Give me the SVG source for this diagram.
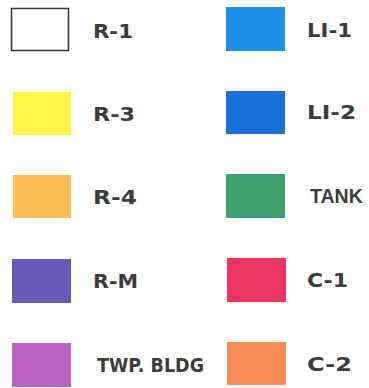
<svg xmlns="http://www.w3.org/2000/svg" width="369" height="388" viewBox="0 0 369 388">
<style>
  .sw { stroke: none; }
  .lbl { font-family: "DejaVu Sans", "Liberation Sans", sans-serif; font-weight: bold; font-size: 20px; fill: #3c3c3c; }
  .nar { font-family: "Liberation Sans", Arial, sans-serif; font-size: 19.5px; }
</style>
<rect width="369" height="388" fill="#ffffff"/>
<g id="r1"><rect x="11.5" y="8.5" width="57" height="42" fill="#ffffff" stroke="#333333" stroke-width="1.5"/><text class="lbl" x="93" y="38" textLength="40" lengthAdjust="spacingAndGlyphs">R-1</text></g>
<g id="r3"><rect class="sw" x="13" y="92" width="58" height="43" fill="#fff447"/><text class="lbl" x="93" y="121" textLength="42" lengthAdjust="spacingAndGlyphs">R-3</text></g>
<g id="r4"><rect class="sw" x="13" y="175" width="58" height="43" fill="#fdbb55"/><text class="lbl" x="93" y="204" textLength="44" lengthAdjust="spacingAndGlyphs">R-4</text></g>
<g id="rm"><rect class="sw" x="12" y="259" width="59" height="44" fill="#6a58b8"/><text class="lbl" x="93" y="288" textLength="45" lengthAdjust="spacingAndGlyphs">R-M</text></g>
<g id="twp"><rect class="sw" x="12" y="343" width="59" height="44" fill="#b862c2"/><text class="lbl" x="97" y="372" textLength="107" lengthAdjust="spacingAndGlyphs">TWP. BLDG</text></g>
<g id="li1"><rect class="sw" x="226" y="7" width="59" height="44" fill="#1e8de8"/><text class="lbl" x="307" y="37" textLength="45" lengthAdjust="spacingAndGlyphs">LI-1</text></g>
<g id="li2"><rect class="sw" x="226" y="91" width="59" height="43" fill="#1a70d8"/><text class="lbl" x="307" y="119" textLength="49" lengthAdjust="spacingAndGlyphs">LI-2</text></g>
<g id="tank"><rect class="sw" x="226" y="174" width="59" height="44" fill="#3f9f6c"/><text class="lbl nar" x="310" y="203">TANK</text></g>
<g id="c1"><rect class="sw" x="227" y="258" width="59" height="44" fill="#ec3764"/><text class="lbl" x="307" y="287" textLength="41" lengthAdjust="spacingAndGlyphs">C-1</text></g>
<g id="c2"><rect class="sw" x="227" y="342" width="59" height="43" fill="#f98c57"/><text class="lbl" x="307" y="371" textLength="45" lengthAdjust="spacingAndGlyphs">C-2</text></g>
</svg>
